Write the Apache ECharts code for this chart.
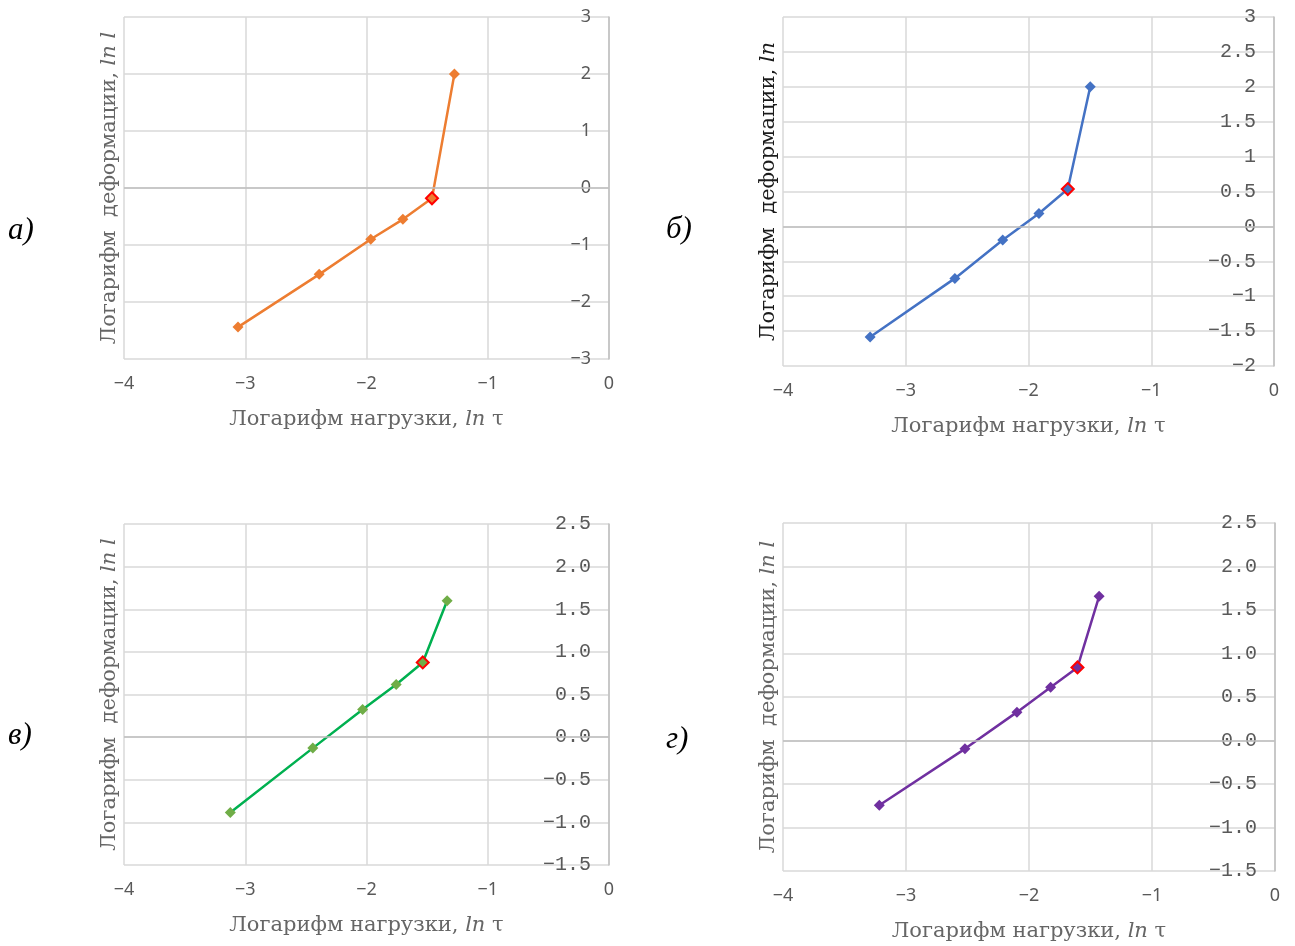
<!DOCTYPE html>
<html>
<head>
<meta charset="utf-8">
<script src="https://cdn.jsdelivr.net/npm/echarts@6.0.0/dist/echarts.min.js"></script>
<style>
  html, body { margin: 0; padding: 0; background: #ffffff; }
  #chart { width: 1295px; height: 946px; }
</style>
</head>
<body>
<div id="chart"></div>
<script>
// ---- Data ----
const panelLetters = ['а)', 'б)', 'в)', 'г)'];

const xA = [-3.06, -2.39, -1.965, -1.70, -1.46, -1.275];
const yA = [-2.44, -1.515, -0.90, -0.55, -0.18, 2.00];

const xB = [-3.29, -2.60, -2.21, -1.915, -1.68, -1.497];
const yB = [-1.585, -0.745, -0.195, 0.185, 0.535, 2.00];

const xC = [-3.123, -2.443, -2.032, -1.755, -1.536, -1.335];
const yC = [-0.884, -0.129, 0.325, 0.618, 0.876, 1.60];

const xD = [-3.217, -2.521, -2.098, -1.824, -1.606, -1.43];
const yD = [-0.744, -0.096, 0.326, 0.613, 0.840, 1.657];

// index of the highlighted (red-outlined) break point in each series
const breakIndex = [4, 4, 4, 4];

// axis ranges
const xRange = [-4, 0, 1];
const yRanges = [[-3, 3, 1], [-2, 3, 0.5], [-1.5, 2.5, 0.5], [-1.5, 2.5, 0.5]];

const xTitle = 'Логарифм нагрузки, ';
const yTitleA = 'Логарифм  деформации, ';
const yTitleUnitL = 'ln l';
const yTitleUnitN = 'ln';
const xTitleUnit = 'ln';
const tauSym = ' τ';

// ---- Styling ----
const lineColors = ['#ED7D31', '#4472C4', '#00B050', '#7030A0'];
const markerColors = ['#ED7D31', '#4472C4', '#70AD47', '#7030A0'];
const grids = [
  { left: 124, top: 17, width: 485, height: 342 },
  { left: 783, top: 17, width: 491, height: 349 },
  { left: 124, top: 524, width: 485, height: 341 },
  { left: 783, top: 523, width: 492, height: 348 }
];
const letterPos = [[22, 233], [680, 232], [22, 738], [680, 742]];

function minusFix(s) { return String(s).replace('-', '\u2212'); }

const yFormatters = [
  v => minusFix(v),
  v => minusFix(v),
  v => minusFix((Math.abs(v) < 1e-9 ? 0 : v).toFixed(1)),
  v => minusFix((Math.abs(v) < 1e-9 ? 0 : v).toFixed(1))
];
const yLabelFonts = ['Noto Sans', 'Liberation Mono', 'Liberation Mono', 'Liberation Mono'];
const yLabelSizes = [18, 20, 20, 20];

const allX = [xA, xB, xC, xD];
const allY = [yA, yB, yC, yD];

const serif = 'DejaVu Serif';
const titleRich = {
  n: { fontFamily: serif, fontSize: 21, color: '#666666' },
  i: { fontFamily: serif, fontSize: 21, fontStyle: 'italic', color: '#666666' },
  nd: { fontFamily: serif, fontSize: 21, color: '#1a1a1a' },
  id: { fontFamily: serif, fontSize: 21, fontStyle: 'italic', color: '#1a1a1a' }
};

const yNames = [
  '{n|' + yTitleA + '}{i|' + yTitleUnitL + '}',
  '{nd|' + yTitleA + '}{id|' + yTitleUnitN + '}',
  '{n|' + yTitleA + '}{i|' + yTitleUnitL + '}',
  '{n|' + yTitleA + '}{i|' + yTitleUnitL + '}'
];
const xName = '{n|' + xTitle + '}{i|' + xTitleUnit + '}{n|' + tauSym + '}';

const option = {
  animation: false,
  backgroundColor: '#ffffff',
  grid: grids.map(g => Object.assign({ outerBoundsMode: 'none', containLabel: false }, g)),
  xAxis: grids.map((g, i) => ({
    type: 'value',
    gridIndex: i,
    min: xRange[0], max: xRange[1], interval: xRange[2],
    axisLine: { show: false, onZero: false },
    axisTick: { show: false },
    axisLabel: {
      margin: 16,
      fontFamily: 'Noto Sans', fontSize: 18, color: '#595959',
      formatter: v => minusFix(v)
    },
    splitLine: { show: true, lineStyle: { color: '#d9d9d9', width: 1.5 } },
    name: xName,
    nameLocation: 'middle',
    nameGap: 50,
    nameMoveOverlap: false,
    nameTextStyle: { rich: titleRich }
  })),
  yAxis: [].concat(...grids.map((g, i) => ([
    {
      type: 'value',
      gridIndex: i,
      position: 'right',
      min: yRanges[i][0], max: yRanges[i][1], interval: yRanges[i][2],
      axisLine: { show: true, onZero: false, lineStyle: { color: '#bfbfbf', width: 1.5 } },
      axisTick: { show: false },
      axisLabel: {
        inside: true, margin: 18,
        fontFamily: yLabelFonts[i], fontSize: yLabelSizes[i], color: '#595959',
        padding: [0, 0, 8, 0],
        formatter: yFormatters[i]
      },
      splitLine: { show: true, lineStyle: { color: '#d9d9d9', width: 1.5 } }
    },
    {
      type: 'value',
      gridIndex: i,
      position: 'left',
      min: 0, max: 1,
      axisLine: { show: false },
      axisTick: { show: false },
      axisLabel: { show: false },
      splitLine: { show: false },
      name: yNames[i],
      nameLocation: 'middle',
      nameGap: 4,
      nameRotate: 90,
      nameMoveOverlap: false,
      nameTextStyle: { rich: titleRich }
    }
  ]))),
  series: allX.map((xs, i) => ({
    type: 'line',
    xAxisIndex: i,
    yAxisIndex: i * 2,
    symbol: 'diamond',
    symbolSize: 11,
    showSymbol: true,
    lineStyle: { color: lineColors[i], width: 2.5 },
    itemStyle: { color: markerColors[i] },
    emphasis: { disabled: true },
    data: xs.map((x, k) => {
      const item = { value: [x, allY[i][k]] };
      if (k === breakIndex[i]) {
        item.symbolSize = 12;
        item.itemStyle = { color: markerColors[i], borderColor: '#FF0000', borderWidth: 2 };
      }
      return item;
    }),
    markLine: {
      silent: true,
      symbol: 'none',
      animation: false,
      label: { show: false },
      lineStyle: { color: '#bfbfbf', type: 'solid', width: 1.5 },
      data: [{ yAxis: 0 }]
    },
    z: 3
  })),
  graphic: panelLetters.map((t, i) => ({
    type: 'text',
    left: letterPos[i][0] - 14,
    top: letterPos[i][1] - 18,
    style: {
      text: t,
      font: 'italic 31px "Liberation Serif"',
      fill: '#000000'
    }
  }))
};

const chart = echarts.init(document.getElementById('chart'), null, { renderer: 'canvas' });
chart.setOption(option);
</script>
</body>
</html>
